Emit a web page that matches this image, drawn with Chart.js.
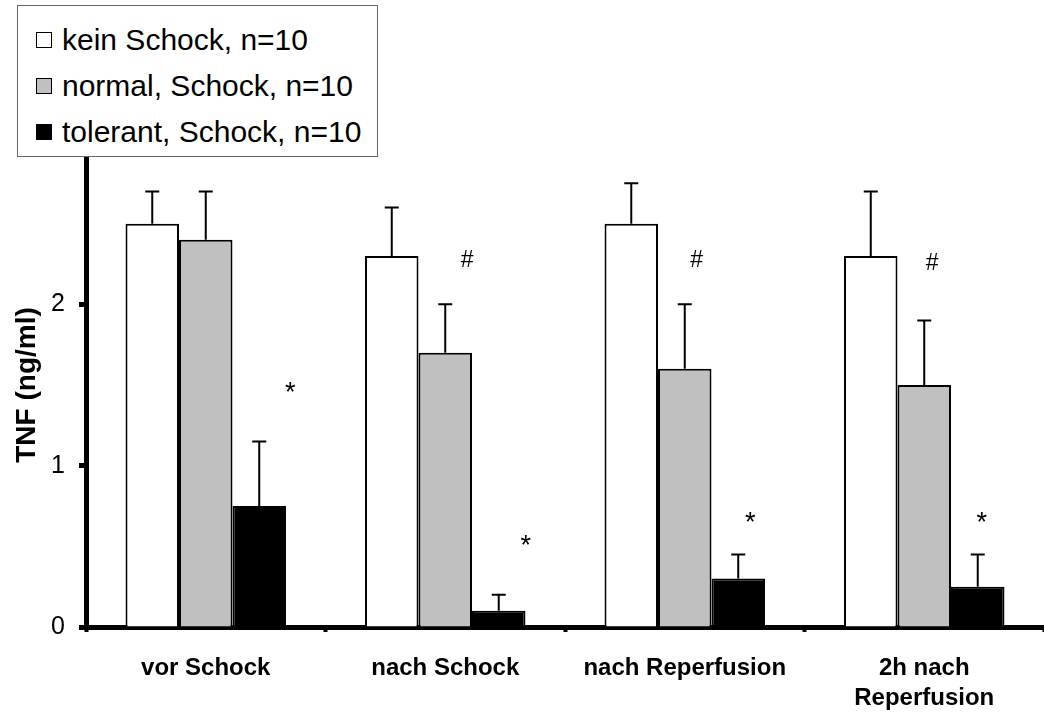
<!DOCTYPE html>
<html lang="de">
<head>
    <meta charset="UTF-8">
    <title>TNF</title>
    <script src="https://cdn.jsdelivr.net/npm/chart.js"></script>
    <style>
        body { margin: 0; background: #fff; font-family: "Liberation Sans", Arial, sans-serif; }
        .wrap { position: relative; width: 1044px; height: 716px; }
        canvas { position: absolute; left: 0; top: 0; }
        #legend {
            position: absolute; left: 17px; top: 5px; width: 359px; height: 150px;
            border: 1px solid #666; background: #fff;
        }
        .item { position: absolute; left: 18px; height: 34px; display: flex; align-items: center; font-size: 30px; color: #000; white-space: nowrap; }
        .sw { width: 14px; height: 14px; border: 1px solid #000; margin-right: 10px; }
    </style>
</head>
<body>
<div class="wrap">
    <canvas id="chart" width="1044" height="716"></canvas>
    <div id="legend"></div>
</div>
<script>
    // Daten
    const categories = ['vor Schock', 'nach Schock', 'nach Reperfusion', ['2h nach', 'Reperfusion']];
    const seriesNames = ['kein Schock, n=10', 'normal, Schock, n=10', 'tolerant, Schock, n=10'];
    const keinSchock = [2.5, 2.3, 2.5, 2.3];
    const keinSchockErr = [0.2, 0.3, 0.25, 0.4];
    const normalSchock = [2.4, 1.7, 1.6, 1.5];
    const normalSchockErr = [0.3, 0.3, 0.4, 0.4];
    const tolerantSchock = [0.75, 0.1, 0.3, 0.25];
    const tolerantSchockErr = [0.4, 0.1, 0.15, 0.2];
    const starY = [1.48, 0.53, 0.67, 0.67];      // * Markierung (tolerant)
    const hashY = [null, 2.27, 2.27, 2.25];      // # Markierung (normal)
    const yTicks = [0, 1, 2, 3];

    const fills = ['#ffffff', '#c0c0c0', '#000000'];
    const errs = [keinSchockErr, normalSchockErr, tolerantSchockErr];
    // seitlicher Versatz der Markierungen in px
    const starDx = [31, 27, 12, 4];
    const hashDx = [0, 22, 12, 8];

    const FONT = '"Liberation Sans", Arial, sans-serif';

    // Legende
    const legend = document.getElementById('legend');
    seriesNames.forEach((name, i) => {
        const d = document.createElement('div');
        d.className = 'item';
        d.style.top = (17 + i * 46) + 'px';
        d.innerHTML = '<span class="sw" style="background:' + fills[i] + '"></span>' + name;
        legend.appendChild(d);
    });

    const errorBars = {
        id: 'errorBars',
        afterDatasetsDraw(chart) {
            const ctx = chart.ctx;
            const y = chart.scales.y;
            ctx.save();
            ctx.strokeStyle = '#000';
            ctx.lineWidth = 2;
            chart.data.datasets.forEach((ds, di) => {
                chart.getDatasetMeta(di).data.forEach((bar, i) => {
                    const top = y.getPixelForValue(ds.data[i] + errs[di][i]);
                    ctx.beginPath();
                    ctx.moveTo(bar.x, bar.y);
                    ctx.lineTo(bar.x, top);
                    ctx.moveTo(bar.x - 7, top);
                    ctx.lineTo(bar.x + 7, top);
                    ctx.stroke();
                });
            });
            // Signifikanz-Markierungen
            ctx.fillStyle = '#000';
            ctx.textAlign = 'center';
            ctx.textBaseline = 'middle';
            const gray = chart.getDatasetMeta(1).data;
            const black = chart.getDatasetMeta(2).data;
            ctx.font = '27px ' + FONT;
            starY.forEach((v, i) => {
                if (v == null) return;
                ctx.fillText('*', black[i].x + starDx[i], y.getPixelForValue(v) + 5);
            });
            ctx.font = '23px ' + FONT;
            hashY.forEach((v, i) => {
                if (v == null) return;
                ctx.fillText('#', gray[i].x + hashDx[i], y.getPixelForValue(v));
            });
            ctx.restore();
        }
    };

    new Chart(document.getElementById('chart').getContext('2d'), {
        type: 'bar',
        data: {
            labels: categories,
            datasets: [keinSchock, normalSchock, tolerantSchock].map((d, i) => ({
                label: seriesNames[i],
                data: d,
                backgroundColor: fills[i],
                borderColor: '#000',
                borderWidth: 2,
                categoryPercentage: 0.67,
                barPercentage: 1.0
            }))
        },
        options: {
            responsive: false,
            animation: false,
            layout: { padding: { top: 143, right: 0, left: 0, bottom: 0 } },
            plugins: { legend: { display: false }, tooltip: { enabled: false } },
            scales: {
                x: {
                    afterFit: s => { s.height = 89; },
                    border: { display: true, width: 5, color: '#000' },
                    grid: { drawOnChartArea: false, drawTicks: true, tickLength: 5, tickWidth: 4, color: '#000' },
                    ticks: {
                        color: '#000', padding: 21, maxRotation: 0,
                        font: { family: FONT, size: 24, weight: 'bold', lineHeight: 1.25 }
                    }
                },
                y: {
                    min: 0, max: 3,
                    afterFit: s => { s.width = 86; },
                    afterBuildTicks: s => { s.ticks = yTicks.map(v => ({ value: v })); },
                    border: { display: true, width: 5, color: '#000' },
                    grid: { drawOnChartArea: false, drawTicks: true, tickLength: 7, tickWidth: 5, color: '#000' },
                    ticks: { color: '#000', padding: 14, font: { family: FONT, size: 25 } },
                    title: {
                        display: true, text: 'TNF (ng/ml)', color: '#000', padding: { top: 10, bottom: 0 },
                        font: { family: FONT, size: 28, weight: 'bold' }
                    }
                }
            }
        },
        plugins: [errorBars]
    });
</script>
</body>
</html>
